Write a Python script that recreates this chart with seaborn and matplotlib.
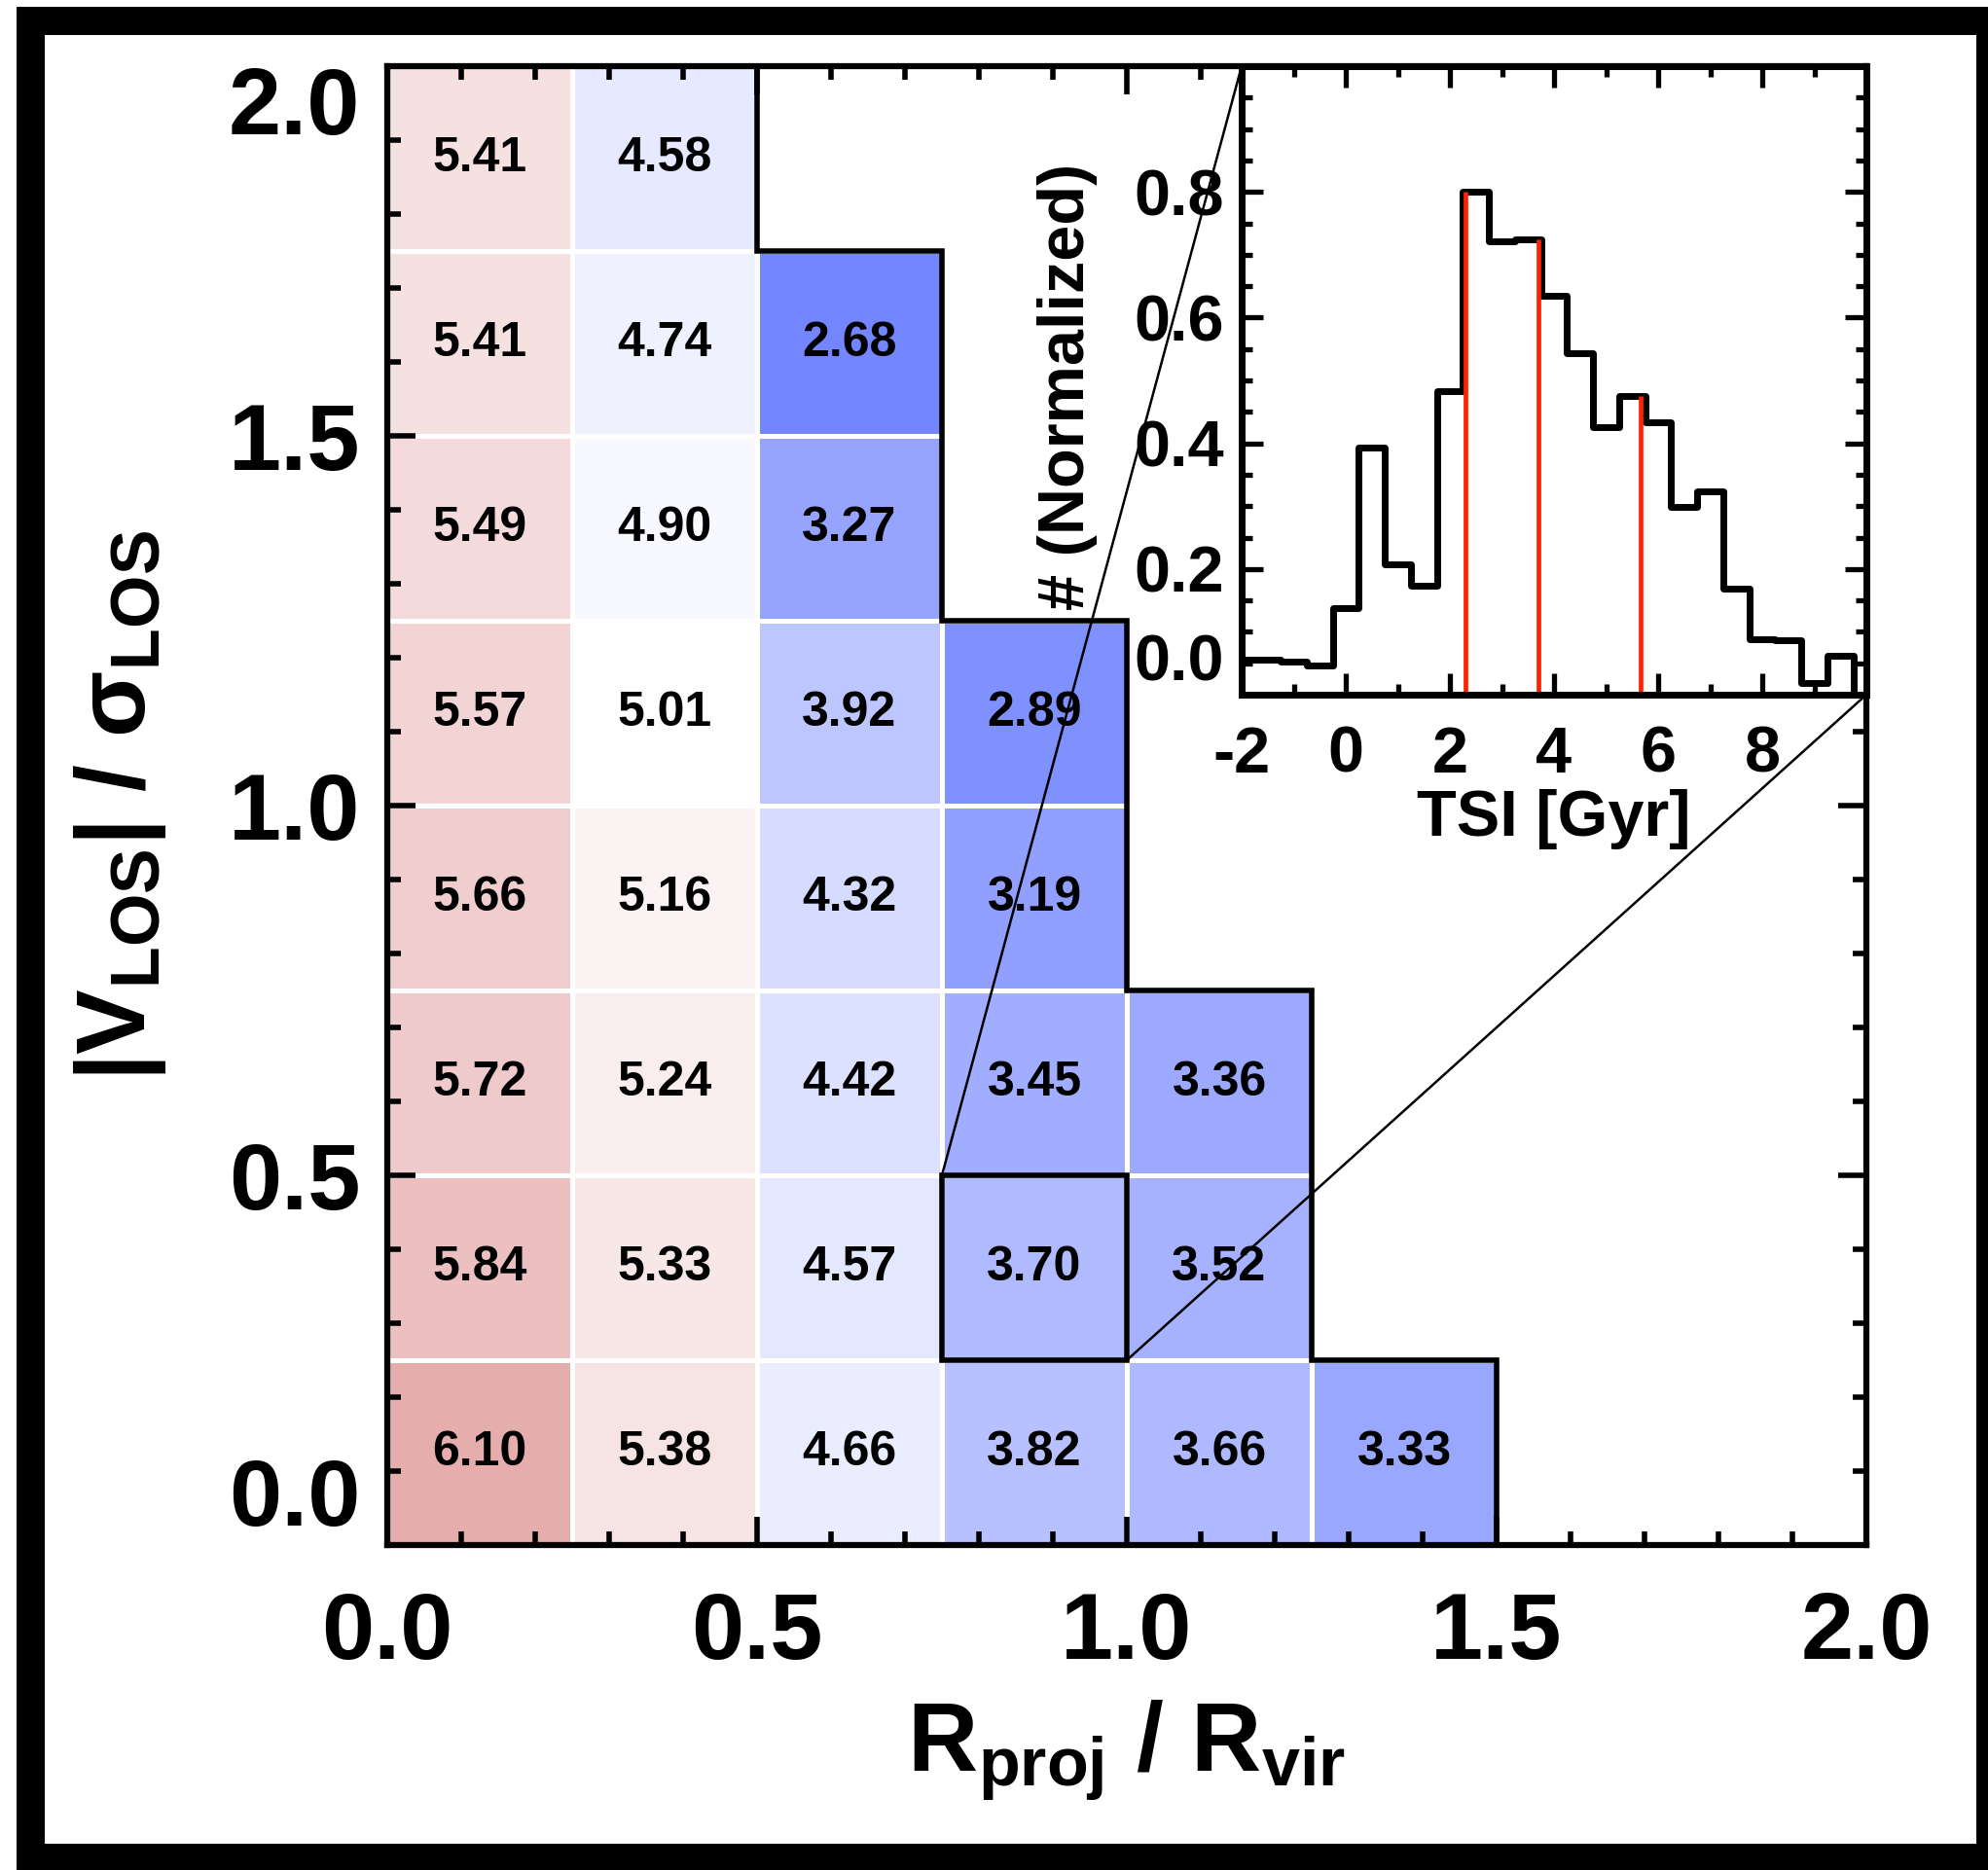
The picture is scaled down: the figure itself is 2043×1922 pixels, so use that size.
import numpy as np
import pandas as pd
import matplotlib
matplotlib.use("Agg")
import matplotlib.pyplot as plt
from matplotlib.colors import LinearSegmentedColormap
from matplotlib.patches import Rectangle, ConnectionPatch
from matplotlib.ticker import MultipleLocator, FixedLocator
import seaborn as sns

# ---------------------------------------------------------------------------
# Data
# ---------------------------------------------------------------------------
nan = np.nan
bin_size = 0.25
r_labels = ["0.0", "0.5", "1.0", "1.5", "2.0"]
v_labels = ["0.0", "0.5", "1.0", "1.5", "2.0"]

# median time since infall [Gyr] per (R_proj/R_vir, |V_LOS|/sigma_LOS) bin,
# one list per velocity bin (lower edge in the name), columns ordered in R
tsi_v000 = [6.10, 5.38, 4.66, 3.82, 3.66, 3.33, nan, nan]
tsi_v025 = [5.84, 5.33, 4.57, 3.70, 3.52, nan, nan, nan]
tsi_v050 = [5.72, 5.24, 4.42, 3.45, 3.36, nan, nan, nan]
tsi_v075 = [5.66, 5.16, 4.32, 3.19, nan, nan, nan, nan]
tsi_v100 = [5.57, 5.01, 3.92, 2.89, nan, nan, nan, nan]
tsi_v125 = [5.49, 4.90, 3.27, nan, nan, nan, nan, nan]
tsi_v150 = [5.41, 4.74, 2.68, nan, nan, nan, nan, nan]
tsi_v175 = [5.41, 4.58, nan, nan, nan, nan, nan, nan]

# highlighted bin shown in the inset: R in [0.75, 1.0], |V| in [0.25, 0.5]
zoom_r = (0.75, 1.0)
zoom_v = (0.25, 0.5)

# normalized TSI distribution of the highlighted bin (0.5 Gyr bins)
hist_lo, hist_hi, hist_width = -2.25, 10.25, 0.5
hist_norm = [0.055, 0.055, 0.052, 0.047, 0.137, 0.393, 0.208, 0.174, 0.483,
             0.801, 0.722, 0.725, 0.634, 0.543, 0.425, 0.476, 0.434, 0.298,
             0.324, 0.168, 0.089, 0.086, 0.019, 0.062, 0.0]
tsi_quartiles = [2.29, 3.70, 5.67]

# ---------------------------------------------------------------------------
# Style
# ---------------------------------------------------------------------------
sns.set_style("white")
plt.rcParams["font.family"] = ["Liberation Sans", "DejaVu Sans"]
plt.rcParams["font.weight"] = "bold"
plt.rcParams["text.color"] = "black"
plt.rcParams["axes.labelcolor"] = "black"
plt.rcParams["xtick.color"] = "black"
plt.rcParams["ytick.color"] = "black"
plt.rcParams["axes.axisbelow"] = False
plt.rcParams["mathtext.fontset"] = "custom"
plt.rcParams["mathtext.rm"] = "Liberation Sans:bold"
plt.rcParams["mathtext.bf"] = "Liberation Sans:bold"
plt.rcParams["mathtext.it"] = "Liberation Sans:bold"
plt.rcParams["mathtext.sf"] = "Liberation Sans:bold"
plt.rcParams["mathtext.default"] = "bf"

W, H = 2043, 1922
fig = plt.figure(figsize=(W / 100, H / 100), dpi=100, facecolor="white")


def fbox(x0, y0, x1, y1):
    """pixel box (top-left origin) -> figure fraction [left, bottom, w, h]"""
    return [x0 / W, 1 - y1 / H, (x1 - x0) / W, (y1 - y0) / H]


# black frame around the whole panel
outer = fbox(17, 7, 2043, 1922)
inner = fbox(46, 36, 2031, 1895)
fig.add_artist(Rectangle(outer[:2], outer[2], outer[3], transform=fig.transFigure,
                         facecolor="black", edgecolor="none", zorder=-3))
fig.add_artist(Rectangle(inner[:2], inner[2], inner[3], transform=fig.transFigure,
                         facecolor="white", edgecolor="none", zorder=-2))

# ---------------------------------------------------------------------------
# Main heat map
# ---------------------------------------------------------------------------
rows_low_to_high = [tsi_v000, tsi_v025, tsi_v050, tsi_v075,
                    tsi_v100, tsi_v125, tsi_v150, tsi_v175]
n_bins = len(tsi_v000)
grid = pd.DataFrame(rows_low_to_high[::-1])  # top row = highest velocity bin

cmap = LinearSegmentedColormap.from_list(
    "tsi_div", [(0.0, "#687cff"), (0.5, "#ffffff"), (1.0, "#c64545")])

ax = fig.add_axes(fbox(398, 68, 1918, 1588))
sns.heatmap(grid, ax=ax, cmap=cmap, vmin=2.5, vmax=7.5, cbar=False,
            annot=True, fmt=".2f",
            annot_kws=dict(fontsize=36, fontweight="bold", color="black"),
            linewidths=3.6, linecolor="white",
            xticklabels=False, yticklabels=False)
ax.set_axisbelow(False)
for sp in ax.spines.values():
    sp.set_visible(True)
    sp.set_linewidth(4.5)
    sp.set_color("black")
    sp.set_zorder(5)

# outline of the populated region (per-column bin counts)
counts = grid.notna().sum(axis=0).to_numpy()
tops = n_bins - counts
ax.stairs(tops, np.arange(n_bins + 1), baseline=None, color="black",
          linewidth=4.0, zorder=4)

# box around the highlighted bin
hx0, hx1 = zoom_r[0] / bin_size, zoom_r[1] / bin_size
hy_top, hy_bot = n_bins - zoom_v[1] / bin_size, n_bins - zoom_v[0] / bin_size
ax.add_patch(Rectangle((hx0, hy_top), hx1 - hx0, hy_bot - hy_top,
                       fill=False, edgecolor="black", linewidth=4.0, zorder=4))

ax.set_xlim(0, n_bins)
ax.set_ylim(n_bins, 0)
tick_pos = np.linspace(0, n_bins, len(r_labels))
ax.xaxis.set_major_locator(FixedLocator(tick_pos))
ax.set_xticklabels(r_labels)
ax.yaxis.set_major_locator(FixedLocator(tick_pos[::-1]))
ax.set_yticklabels(v_labels)
ax.xaxis.set_minor_locator(MultipleLocator(0.4))
ax.yaxis.set_minor_locator(MultipleLocator(0.4))
ax.tick_params(which="both", direction="in", top=True, right=True,
               bottom=True, left=True, color="black", labelcolor="black")
ax.tick_params(which="major", length=21, width=4.0, labelsize=70)
ax.tick_params(which="minor", length=10, width=4.0)
ax.tick_params(axis="x", which="major", pad=34)
ax.tick_params(axis="y", which="major", pad=20)
for lab in ax.get_xticklabels() + ax.get_yticklabels():
    lab.set_fontweight("bold")
ytl = ax.get_yticklabels()
ytl[0].set_va("bottom")
ytl[-1].set_va("top")

ax.set_xlabel(r"R$_{\mathbf{proj}}$ / R$_{\mathbf{vir}}$", fontsize=72,
              fontweight="bold", va="top", color="black")
ax.xaxis.set_label_coords(0.5, -0.104)
ax.set_ylabel(r"|V$_{\mathbf{LOS}}$| / σ$_{\mathbf{LOS}}$", fontsize=72,
              fontweight="bold", va="bottom", color="black")
ax.yaxis.set_label_coords(-0.148, 0.5)

# ---------------------------------------------------------------------------
# Inset: TSI distribution of the highlighted bin
# ---------------------------------------------------------------------------
ax_in = fig.add_axes(fbox(1276, 68, 1918, 714))
ax_in.set_facecolor("white")
ax_in.set_axisbelow(False)
n_hist = len(hist_norm)
hist_edges = [hist_lo + i * hist_width for i in range(n_hist + 1)]
hist_df = pd.DataFrame({"tsi": [e + hist_width / 2 for e in hist_edges[:-1]],
                        "frac": hist_norm})
sns.histplot(data=hist_df, x="tsi", weights="frac", bins=hist_edges,
             element="step", fill=False, color="black", linewidth=5.0,
             ax=ax_in, zorder=3)

# quartile markers, each reaching the histogram level at its position
q_heights = [hist_norm[int(np.searchsorted(hist_edges, q, side="right")) - 1]
             for q in tsi_quartiles]
ax_in.vlines(tsi_quartiles, 0, q_heights, color="#ff2200", linewidth=3.4,
             zorder=4)

ax_in.set_xlim(-2, 10)
ax_in.set_ylim(0, 1.0)
ax_in.set_xticks([-2, 0, 2, 4, 6, 8])
ax_in.set_xticklabels(["-2", "0", "2", "4", "6", "8"])
ax_in.set_yticks([0.0, 0.2, 0.4, 0.6, 0.8])
ax_in.set_yticklabels(["0.0", "0.2", "0.4", "0.6", "0.8"])
ax_in.xaxis.set_minor_locator(MultipleLocator(1))
ax_in.yaxis.set_minor_locator(MultipleLocator(0.05))
ax_in.tick_params(which="both", direction="in", top=True, right=True,
                  bottom=True, left=True, color="black", labelcolor="black")
ax_in.tick_params(which="major", length=16, width=3.8, labelsize=48)
ax_in.tick_params(which="minor", length=8, width=3.8)
ax_in.tick_params(axis="x", which="major", pad=23)
ax_in.tick_params(axis="y", which="major", pad=13)
for lab in ax_in.get_xticklabels() + ax_in.get_yticklabels():
    lab.set_fontweight("bold")
ax_in.get_yticklabels()[0].set_va("bottom")
for sp in ax_in.spines.values():
    sp.set_visible(True)
    sp.set_linewidth(5.0)
    sp.set_color("black")
    sp.set_zorder(5)

ax_in.set_xlabel("TSI [Gyr]", fontsize=48, fontweight="bold", va="top",
                 color="black")
ax_in.xaxis.set_label_coords(0.5, -0.15)
ax_in.set_ylabel("# (Normalized)", fontsize=48, fontweight="bold", va="bottom",
                 color="black")
ax_in.yaxis.set_label_coords(-0.23, 0.49)

# connectors from the highlighted bin to the inset corners
for xy_a, xy_b in [((hx0, hy_top), (0, 1)), ((hx1, hy_bot), (1, 0))]:
    fig.add_artist(ConnectionPatch(xyA=xy_a, coordsA=ax.transData,
                                   xyB=xy_b, coordsB=ax_in.transAxes,
                                   color="black", linewidth=1.8, zorder=6))

fig.savefig("out.png", dpi=100, facecolor="white")
